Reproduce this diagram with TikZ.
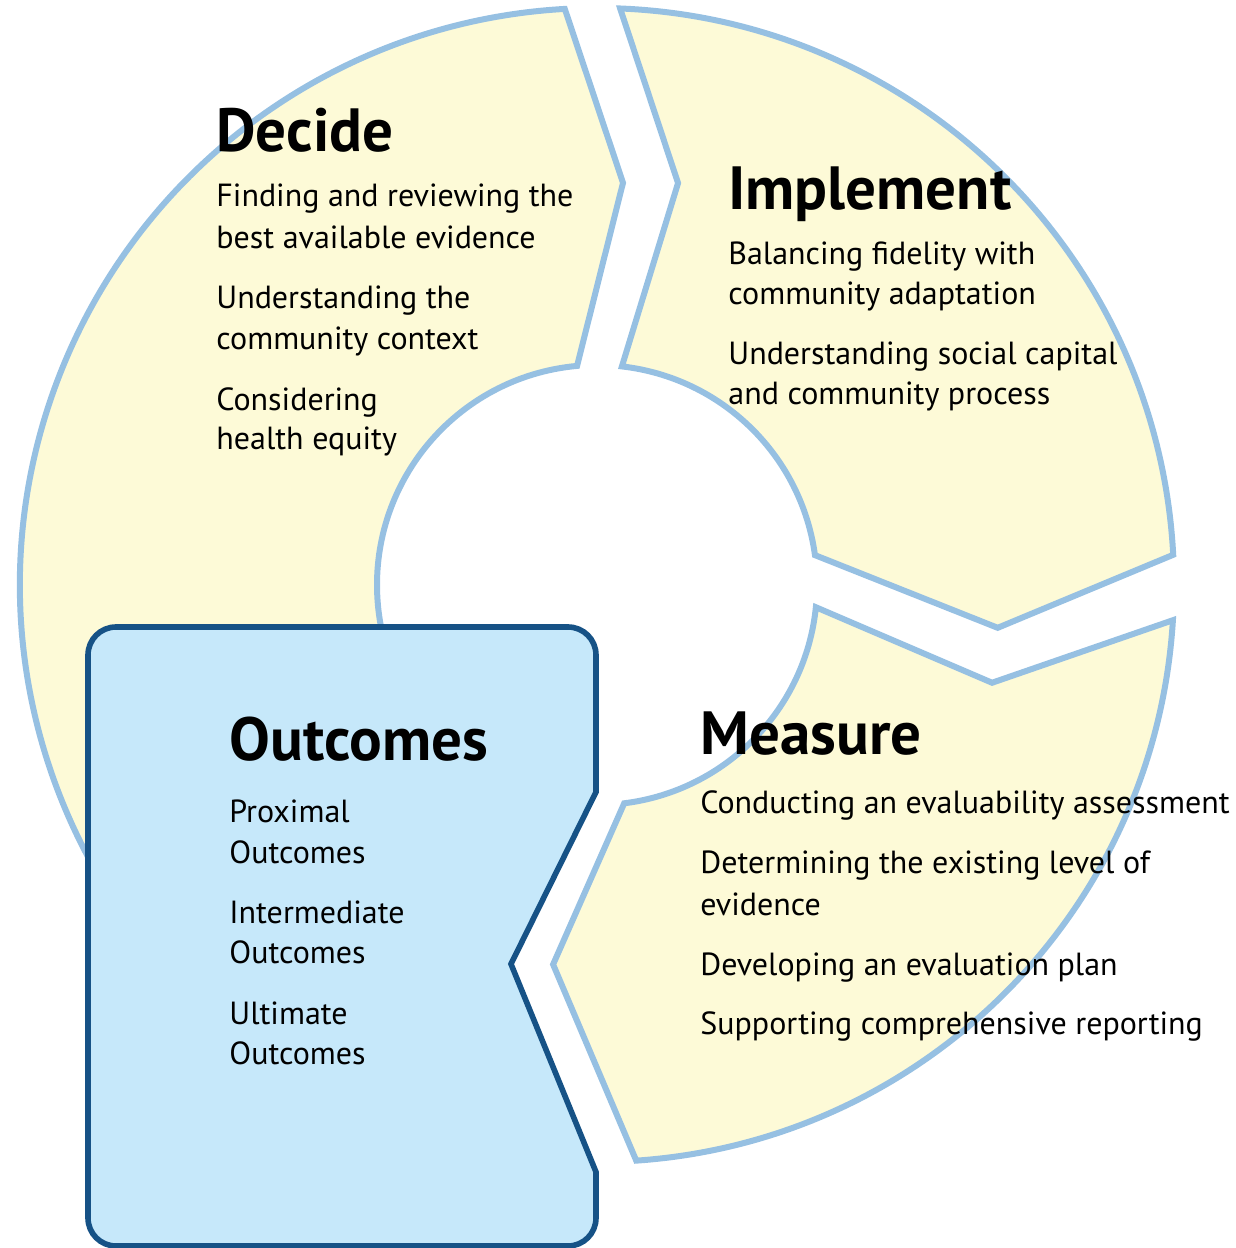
\documentclass[tikz,border=0pt]{standalone}
\usepackage{fontspec}
\setmainfont{PT Sans}
\begin{document}
\begin{tikzpicture}[x=0.5pt,y=0.5pt]
\useasboundingbox (0,0) rectangle (1236,1248);

% Colours of the ring and of the outcomes box
\definecolor{ringfill}{RGB}{253,250,215}
\definecolor{ringline}{RGB}{150,192,226}
\definecolor{boxfill}{RGB}{198,232,250}
\definecolor{boxline}{RGB}{22,82,134}

\tikzstyle{segment}=[fill=ringfill, draw=ringline, line width=3pt, line join=miter]
\tikzstyle{outbox}=[fill=boxfill, draw=boxline, line width=2.8pt, line join=miter]
\tikzstyle{heading}=[font=\bfseries\fontsize{30.5}{36}\selectfont, anchor=base west, inner sep=0pt]
\tikzstyle{body}=[font=\fontsize{16}{20}\selectfont, anchor=base west, inner sep=0pt]

% Inner and outer radius of the ring
\def\rin{220}
\def\rout{577}

% One arrow-shaped piece of the ring
\newcommand{\drawsegment}[6]{
% #1 = angle of the outer corner at the head
% #2 = tip of the head (angle:radius)
% #3 = angle of the inner corner at the head
% #4 = angle of the inner corner at the tail
% #5 = notch of the tail (angle:radius)
% #6 = angle of the outer corner at the tail
\draw[segment] (#1:\rout) -- (#2) -- (#3:\rin)
  arc[start angle=#3, end angle=#4, radius=\rin] -- (#5) -- (#6:\rout)
  arc[start angle=#6, end angle=#1, radius=\rout] -- cycle;
} % End of definition of `drawsegment`

% The three pieces, centred on the middle of the ring
\begin{scope}[shift={(597,663)}]
\drawsegment{93.2}{86.3:403}{95.2}{250}{243:400}{250}      % Decide
\drawsegment{3.0}{-6.1:403}{7.8}{83.5}{78.6:410}{87.7}     % Implement
\drawsegment{-86.1}{-96.6:382}{-82.9}{-5.8}{-13.9:407}{-3.5} % Measure
\end{scope}

% From here on y runs downwards, from the top edge
\begin{scope}[shift={(0,1248)}, yscale=-1]

% Outcomes box, with the notch on its right side
\draw[outbox] (88,1000) [rounded corners=14pt] -- (88,627) -- (596,627) -- (596,760)
  [sharp corners] -- (596,792) -- (511,964) -- (596,1172) -- (596,1200)
  [rounded corners=14pt] -- (596,1246) -- (88,1246) -- (88,1000) -- cycle;

% Decide
\node[heading] (decide) at (216,152) {Decide};
\foreach \y/\t [count=\i] in {207/Finding and reviewing the, 249/best available evidence,
  309/Understanding the, 350/community context, 411/Considering, 450/health equity}
  \node[body] (decide\i) at (216,\y) {\t};

% Implement
\node[heading] (implement) at (728,210) {Implement};
\foreach \y/\t [count=\i] in {265/Balancing fidelity with, 305/community adaptation,
  365/Understanding social capital, 405/and community process}
  \node[body] (implement\i) at (728,\y) {\t};

% Measure
\node[heading] (measure) at (700,755) {Measure};
\foreach \y/\t [count=\i] in {814/Conducting an evaluability assessment,
  874/Determining the existing level of, 916/evidence,
  976/Developing an evaluation plan, 1035/Supporting comprehensive reporting}
  \node[body] (measure\i) at (700,\y) {\t};

% Outcomes
\node[heading] (outcomes) at (229,761) {Outcomes};
\foreach \y/\t [count=\i] in {823/Proximal, 864/Outcomes, 924/Intermediate,
  964/Outcomes, 1025/Ultimate, 1065/Outcomes}
  \node[body] (outcomes\i) at (229,\y) {\t};

\end{scope}
\end{tikzpicture}
\end{document}
